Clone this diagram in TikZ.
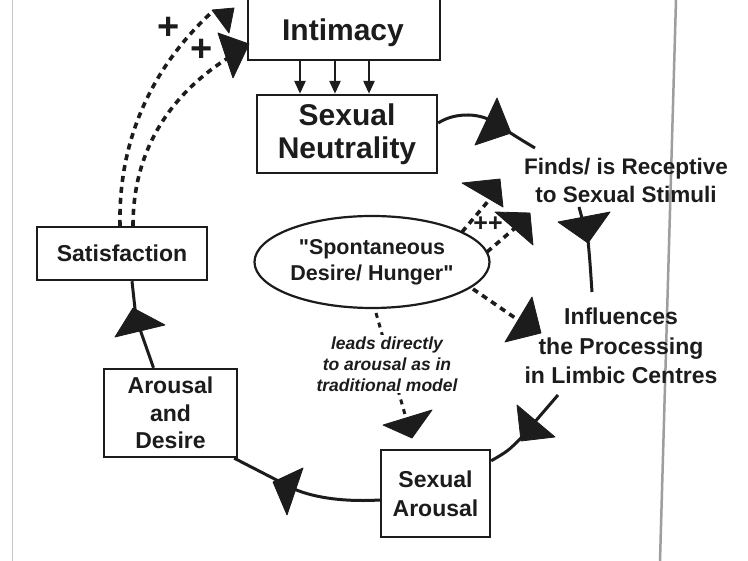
\documentclass[tikz,border=0pt]{standalone}
\usepackage{fontspec}
\setmainfont{Liberation Sans}
\usetikzlibrary{shapes.geometric,arrows.meta}
\definecolor{ink}{RGB}{28,28,28}
\begin{document}
\begin{tikzpicture}[x=1pt,y=-1pt,
  box/.style={draw=ink, line width=2.4pt, fill=white, inner sep=0pt, align=center, text=ink},
  bigtext/.style={font=\bfseries\fontsize{30}{33}\selectfont},
  midtext/.style={font=\bfseries\fontsize{23}{27.5}\selectfont},
  plain/.style={inner sep=0pt, align=center, text=ink},
  cycle/.style={draw=ink, line width=3pt},
  dotline/.style={draw=ink, line width=3.6pt, dash pattern=on 6pt off 5pt},
  head/.style={fill=ink, draw=ink, line width=0.8pt, line join=round},
  drop/.style={draw=ink, line width=2.6pt, -{Triangle[length=13pt,width=11pt]}}
]
\useasboundingbox (0,0) rectangle (748,561);
\fill[white] (0,0) rectangle (748,561);

% faint page edges
\draw[black!22, line width=1pt] (12,0) -- (12,561);
\draw[black!38, line width=2.5pt] (676,0) -- (660,561);

% boxes
\node[box, minimum width=192pt, minimum height=70pt] (int) at (344,25) {};
\node[plain, bigtext] (intlabel) at (343,33) {Intimacy};
\node[box, bigtext, minimum width=180pt, minimum height=78pt] (neut) at (347,134) {Sexual\\Neutrality};
\node[box, midtext, minimum width=170pt, minimum height=53pt] (sat) at (122,253.5) {Satisfaction};
\node[box, midtext, minimum width=133pt, minimum height=88pt] (ad) at (170.5,413) {Arousal\\and\\Desire};
\node[box, midtext, font=\bfseries\fontsize{23}{29}\selectfont, minimum width=109pt, minimum height=87pt] (sa) at (435.5,493.5) {Sexual\\Arousal};
\node[draw=ink, line width=2.2pt, ellipse, minimum width=235pt, minimum height=92pt, inner sep=0pt, align=center, text=ink,
      font=\bfseries\fontsize{21.5}{26}\selectfont] (sd) at (372,262) {\textquotedbl Spontaneous\\Desire/ Hunger\textquotedbl};

% free labels
\node[plain, font=\bfseries\fontsize{22.5}{28}\selectfont] (finds) at (626,180) {Finds/ is Receptive\\to Sexual Stimuli};
\node[plain, font=\bfseries\fontsize{23}{29.5}\selectfont] (infl) at (621,346) {Influences\\the Processing\\in Limbic Centres};

% intimacy feeds neutrality
\draw[drop] ([xshift=-44pt]int.south) -- ([xshift=-47pt]neut.north);
\draw[drop] ([xshift=-9pt]int.south) -- ([xshift=-12pt]neut.north);
\draw[drop] ([xshift=25pt]int.south) -- ([xshift=22pt]neut.north);

% the response cycle
\coordinate (c1) at (535,148);
\draw[cycle] ([yshift=11pt]neut.east) .. controls (455,112) and (482,112) .. (498,125) .. controls (512,134) and (523,141) .. (c1);
\fill[head] (497,98) -- (511,133) -- (475,145) -- cycle;

\coordinate (c2a) at (579,207);
\coordinate (c2b) at (592,292);
\draw[cycle] (c2a) -- (588,240) .. controls (590,262) .. (c2b);
\fill[head] (558,222) -- (610,212) -- (588,243) -- cycle;

\coordinate (c3) at (558,395);
\draw[cycle] (c3) -- (521,438) .. controls (508,451) .. ([yshift=-12pt]sa.north east);
\fill[head] (517,405) -- (555,437) -- (521,441) -- cycle;

\draw[cycle] ([yshift=-6.5pt]sa.west) .. controls (345,502) and (315,498) .. (294,489) -- ([xshift=-4pt]ad.south east);
\fill[head] (303,468) -- (273,482) -- (287,515) -- cycle;

\draw[cycle] ([xshift=-17pt]ad.north) -- (136,318) -- ([xshift=10pt]sat.south);
\fill[head] (133,308) -- (165,325) -- (115,337) -- cycle;

% satisfaction reinforces intimacy
\coordinate (p1) at (212,12);
\coordinate (p2) at (228,58);
\draw[dotline] ([xshift=-2pt]sat.north) .. controls (118,130) and (160,60) .. (p1);
\draw[dotline] ([xshift=11pt]sat.north) .. controls (133,150) and (170,95) .. (p2);
\fill[head] (212,10) -- (234,8) -- (229,33) -- cycle;
\fill[head] (218,33) -- (249,44) -- (233,78) -- cycle;
\node[plain, font=\bfseries\fontsize{38}{38}\selectfont] (plusa) at (169,28) {+};
\node[plain, font=\bfseries\fontsize{38}{38}\selectfont] (plusb) at (202,50) {+};

% spontaneous desire links
\coordinate (e1) at (462,232);
\coordinate (e2) at (487,252);
\coordinate (e3) at (473,289);
\coordinate (e4) at (376,313);
\coordinate (q1) at (490,199);
\coordinate (q2) at (515,228);
\draw[dotline] (e1) -- (q1);
\draw[dotline] (e2) -- (q2);
\fill[head] (462,183) -- (500,179) -- (503,207) -- cycle;
\fill[head] (495,212) -- (530,213) -- (533,245) -- cycle;
\node[plain, font=\bfseries\fontsize{25}{25}\selectfont] (pp) at (488,224) {++};

\coordinate (q3) at (521,322);
\draw[dotline] (e3) -- (q3);
\fill[head] (532,297) -- (541,333) -- (505,342) -- cycle;

\coordinate (q4) at (406,418);
\draw[draw=ink, line width=3pt, dash pattern=on 5pt off 5pt] (e4) -- (q4);
\node[plain, fill=white, inner sep=2pt, font=\bfseries\itshape\fontsize{17.5}{21}\selectfont] (lead) at (387,364) {leads directly\\to arousal as in\\traditional model};
\fill[head] (383,425) -- (432,410) -- (412,438) -- cycle;
\end{tikzpicture}
\end{document}
